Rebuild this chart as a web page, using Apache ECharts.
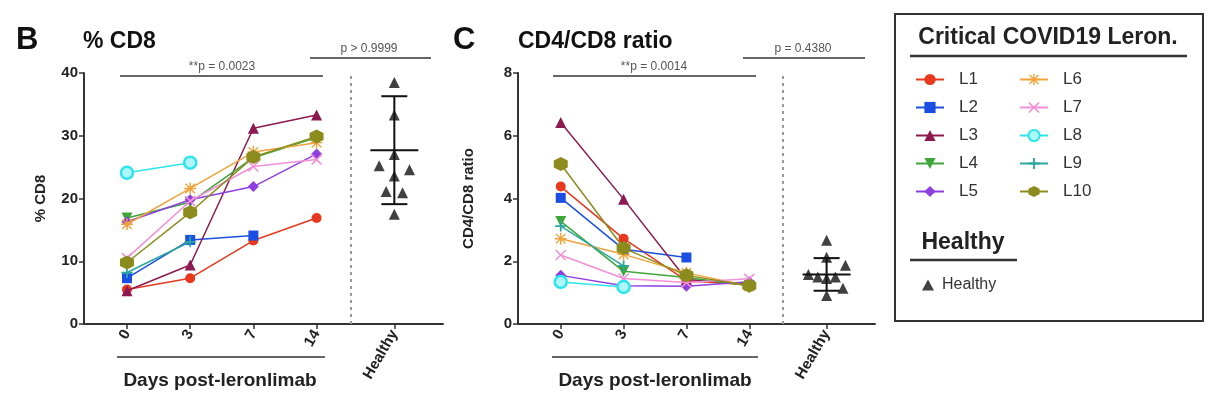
<!DOCTYPE html>
<html><head><meta charset="utf-8">
<script src="https://cdn.jsdelivr.net/npm/echarts@6/dist/echarts.min.js"></script>
<style>html,body{margin:0;padding:0;background:#fff}#c{width:1214px;height:412px}</style>
</head><body><div id="c"></div>
<script>
// ---------------- DATA ----------------
const dayLabels = ['0', '3', '7', '14'];
const healthyLabel = 'Healthy';
const patientNames = ['L1','L2','L3','L4','L5','L6','L7','L8','L9','L10'];

// % CD8 per patient at days 0,3,7,14 (null = not measured)
const cd8L1  = [5.5, 7.3, 13.3, 16.9];
const cd8L2  = [7.3, 13.4, 14.1, null];
const cd8L3  = [5.3, 9.4, 31.2, 33.3];
const cd8L4  = [16.9, 19.4, 26.5, 29.7];
const cd8L5  = [16.3, 19.8, 21.9, 27.1];
const cd8L6  = [15.9, 21.6, 27.4, 28.9];
const cd8L7  = [10.5, 19.6, 25.1, 26.2];
const cd8L8  = [24.1, 25.7, null, null];
const cd8L9  = [8.2, 13.1, null, null];
const cd8L10 = [9.8, 17.8, 26.6, 29.9];

// CD4/CD8 ratio per patient at days 0,3,7,14
const ratioL1  = [4.38, 2.72, 1.38, 1.25];
const ratioL2  = [4.02, 2.38, 2.12, null];
const ratioL3  = [6.42, 3.98, 1.42, 1.28];
const ratioL4  = [3.27, 1.68, 1.48, 1.22];
const ratioL5  = [1.55, 1.22, 1.20, 1.35];
const ratioL6  = [2.72, 2.22, 1.63, 1.20];
const ratioL7  = [2.20, 1.45, 1.32, 1.44];
const ratioL8  = [1.34, 1.18, null, null];
const ratioL9  = [3.12, 1.85, null, null];
const ratioL10 = [5.10, 2.42, 1.55, 1.22];

// Healthy donors
const healthyCd8   = [38.5, 33.3, 27.0, 25.2, 24.6, 23.6, 21.1, 20.9, 17.5];
const healthyRatio = [2.67, 2.13, 1.87, 1.58, 1.50, 1.45, 1.50, 1.14, 0.91];
const healthyCd8Mean = 27.7, healthyCd8Sd = 8.6;
const healthyRatioMean = 1.58, healthyRatioSd = 0.52;

const pTexts = ['**p = 0.0023', 'p > 0.9999', '**p = 0.0014', 'p = 0.4380'];

// ---------------- LAYOUT / STYLE ----------------
const HX = 4.23;          // healthy column position on x axis
const DIV_X = 3.54;       // dashed separator position
const cd8Jitter   = [0, 0, 0, -0.24, 0.24, 0, -0.13, 0.13, 0];
const ratioJitter = [0, 0, 0.30, -0.29, -0.14, 0, 0.14, 0.26, 0];
const FONT = "'Liberation Sans', Arial, sans-serif";

const hexPath = 'path://M5,0L9.33,2.5L9.33,7.5L5,10L0.67,7.5L0.67,2.5Z';
const plusPath = 'path://M4.2,0H5.8V4.2H10V5.8H5.8V10H4.2V5.8H0V4.2H4.2Z';
const xPath = 'path://M0,1L1,0L5,4L9,0L10,1L6,5L10,9L9,10L5,6L1,10L0,9L4,5Z';
const starPath = 'path://M4.4,0H5.6V4.4H10V5.6H5.6V10H4.4V5.6H0V4.4H4.4Z M0.6,1.4L1.4,0.6L5,4.2L8.6,0.6L9.4,1.4L5.8,5L9.4,8.6L8.6,9.4L5,5.8L1.4,9.4L0.6,8.6L4.2,5Z';

const styles = [
  {color:'#e8381e', symbol:'circle', size:10},
  {color:'#1b4fe3', symbol:'rect', size:10},
  {color:'#8c1a4e', symbol:'triangle', size:11},
  {color:'#3fa63a', symbol:'triangle', size:11, rotate:180},
  {color:'#8d3fe0', symbol:'diamond', size:11},
  {color:'#f2a23a', symbol:starPath, size:12},
  {color:'#f28fd6', symbol:xPath, size:11},
  {color:'#2ee4ec', symbol:'circle', size:12, hollow:true},
  {color:'#2aa79f', symbol:plusPath, size:11},
  {color:'#8c8c1e', symbol:hexPath, size:14}
];

const cd8All = [cd8L1,cd8L2,cd8L3,cd8L4,cd8L5,cd8L6,cd8L7,cd8L8,cd8L9,cd8L10];
const ratioAll = [ratioL1,ratioL2,ratioL3,ratioL4,ratioL5,ratioL6,ratioL7,ratioL8,ratioL9,ratioL10];

function lineSeries(vals, gi, idx) {
  const s = styles[idx];
  const data = [];
  vals.forEach((v, i) => { if (v != null) data.push([i, v]); });
  return {
    type: 'line', name: patientNames[idx], xAxisIndex: gi, yAxisIndex: gi,
    data, symbol: s.symbol, symbolSize: s.size, symbolRotate: s.rotate || 0,
    lineStyle: {color: s.color, width: 1.5},
    itemStyle: s.hollow ? {color: '#aef6f8', borderColor: s.color, borderWidth: 2.5} : {color: s.color},
    z: 3 + idx * 0.01
  };
}

function healthySeries(vals, jit, gi) {
  return {
    type: 'scatter', name: 'Healthy', xAxisIndex: gi, yAxisIndex: gi,
    data: vals.map((v, i) => [HX + jit[i], v]),
    symbol: 'triangle', symbolSize: 11, itemStyle: {color: '#111'}, z: 5,
    markLine: {
      silent: true, symbol: 'none', label: {show: false},
      lineStyle: {color: '#9a9a9a', type: [3, 4], width: 2},
      data: [{xAxis: DIV_X}]
    }
  };
}

function errorSeries(mean, sd, gi) {
  return {
    type: 'custom', xAxisIndex: gi, yAxisIndex: gi, z: 4, silent: true,
    data: [[HX, mean, sd]],
    renderItem: function (params, api) {
      const x = api.value(0), m = api.value(1), d = api.value(2);
      const c = api.coord([x, m]), t = api.coord([x, m + d]), b = api.coord([x, m - d]);
      const st = {stroke: '#111', lineWidth: 2};
      return {type: 'group', children: [
        {type: 'line', shape: {x1: t[0], y1: t[1], x2: b[0], y2: b[1]}, style: st},
        {type: 'line', shape: {x1: c[0] - 24, y1: c[1], x2: c[0] + 24, y2: c[1]}, style: st},
        {type: 'line', shape: {x1: t[0] - 13, y1: t[1], x2: t[0] + 13, y2: t[1]}, style: st},
        {type: 'line', shape: {x1: b[0] - 13, y1: b[1], x2: b[0] + 13, y2: b[1]}, style: st}
      ]};
    }
  };
}

const tickPositions = [0, 1, 2, 3, HX];
const tickLabels = dayLabels.concat([healthyLabel]);

function xAxis(gi) {
  return {
    type: 'value', gridIndex: gi, min: -0.68, max: 5.0,
    splitLine: {show: false},
    axisLine: {show: true, onZero: false, lineStyle: {color: '#333', width: 2}},
    axisTick: {show: true, customValues: tickPositions, length: 5, lineStyle: {color: '#333', width: 1.5}},
    axisLabel: {
      customValues: tickPositions, rotate: 60, margin: 7,
      fontFamily: FONT, fontSize: 15, fontWeight: 'bold', color: '#222',
      formatter: function (v) {
        const i = tickPositions.findIndex(p => Math.abs(p - v) < 1e-6);
        return i >= 0 ? tickLabels[i] : '';
      }
    }
  };
}

function yAxis(gi, max, interval, name, gap) {
  return {
    type: 'value', gridIndex: gi, min: 0, max, interval,
    name, nameLocation: 'middle', nameGap: gap, nameRotate: 90,
    nameTextStyle: {fontFamily: FONT, fontSize: 15, fontWeight: 'bold', color: '#222'},
    splitLine: {show: false},
    axisLine: {show: true, onZero: false, lineStyle: {color: '#333', width: 2}},
    axisTick: {show: true, length: 5, lineStyle: {color: '#333', width: 1.5}},
    axisLabel: {fontFamily: FONT, fontSize: 15, fontWeight: 'bold', color: '#222', margin: 6}
  };
}

const series = [];
cd8All.forEach((v, i) => series.push(lineSeries(v, 0, i)));
ratioAll.forEach((v, i) => series.push(lineSeries(v, 1, i)));
series.push(errorSeries(healthyCd8Mean, healthyCd8Sd, 0));
series.push(errorSeries(healthyRatioMean, healthyRatioSd, 1));
series.push(healthySeries(healthyCd8, cd8Jitter, 0));
series.push(healthySeries(healthyRatio, ratioJitter, 1));

function txt(x, y, text, font, fill, align) {
  return {type: 'text', x, y, z: 10, style: {text, font, fill: fill || '#222', align: align || 'left', verticalAlign: 'middle'}};
}
function hline(x1, x2, y, w, color) {
  return {type: 'line', z: 10, shape: {x1, y1: y, x2, y2: y}, style: {stroke: color || '#333', lineWidth: w || 1.5}};
}

const legendText = {fontFamily: FONT, fontSize: 17, color: '#333', padding: [0, 0, 0, 10]};

const option = {
  animation: false,
  backgroundColor: '#fff',
  grid: [
    {left: 84, top: 73, width: 359, height: 251},
    {left: 518, top: 73, width: 357, height: 251}
  ],
  xAxis: [xAxis(0), xAxis(1)],
  yAxis: [yAxis(0, 40, 10, '% CD8', 36), yAxis(1, 8, 2, 'CD4/CD8 ratio', 42)],
  legend: [
    {data: patientNames.slice(0, 5), left: 910, top: 66, orient: 'vertical', itemGap: 11,
     itemWidth: 28, itemHeight: 14, textStyle: legendText, selectedMode: false},
    {data: patientNames.slice(5), left: 1014, top: 66, orient: 'vertical', itemGap: 11,
     itemWidth: 28, itemHeight: 14, textStyle: legendText, selectedMode: false},
    {data: ['Healthy'], left: 917, top: 272, itemWidth: 12, itemHeight: 11,
     textStyle: {fontFamily: FONT, fontSize: 16, color: '#333', padding: [0, 0, 0, 3]}, selectedMode: false}
  ],
  series,
  graphic: [
    txt(16, 40, 'B', 'bold 31px ' + FONT, '#111'),
    txt(83, 42, '% CD8', 'bold 23px ' + FONT, '#111'),
    txt(453, 40, 'C', 'bold 31px ' + FONT, '#111'),
    txt(518, 42, 'CD4/CD8 ratio', 'bold 23px ' + FONT, '#111'),
    // p-value brackets
    hline(120, 323, 76, 1.5), txt(222, 67, pTexts[0], '12px ' + FONT, '#555', 'center'),
    hline(310, 431, 58, 1.5), txt(369, 49, pTexts[1], '12px ' + FONT, '#555', 'center'),
    hline(553, 756, 76, 1.5), txt(654, 67, pTexts[2], '12px ' + FONT, '#555', 'center'),
    hline(743, 865, 58, 1.5), txt(803, 49, pTexts[3], '12px ' + FONT, '#555', 'center'),
    // day brackets
    hline(117, 325, 357, 1.5), txt(220, 381, 'Days post-leronlimab', 'bold 19px ' + FONT, '#222', 'center'),
    hline(552, 758, 357, 1.5), txt(655, 381, 'Days post-leronlimab', 'bold 19px ' + FONT, '#222', 'center'),
    // legend box
    {type: 'rect', z: 1, shape: {x: 895, y: 14, width: 308, height: 307}, style: {fill: 'none', stroke: '#333', lineWidth: 2}},
    txt(1048, 38, 'Critical COVID19 Leron.', 'bold 23px ' + FONT, '#222', 'center'),
    hline(910, 1187, 56, 2.5, '#333'),
    txt(963, 243, 'Healthy', 'bold 23px ' + FONT, '#222', 'center'),
    hline(910, 1017, 260, 2.5, '#333')
  ]
};

const chart = echarts.init(document.getElementById('c'), null, {renderer: 'canvas'});
chart.setOption(option);
</script></body></html>
